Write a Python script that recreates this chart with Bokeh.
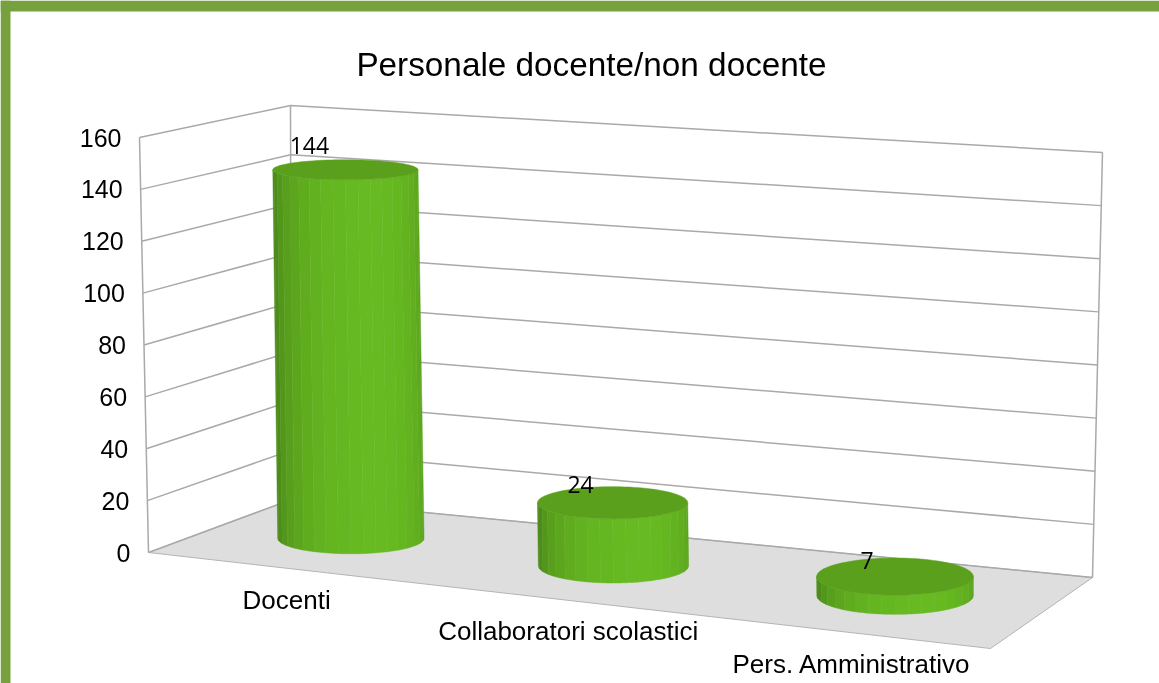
import numpy as np
from bokeh.embed import file_html
from bokeh.models import Range1d
from bokeh.plotting import figure
from bokeh.resources import INLINE
from bokeh.core.properties import value

# ---- data ----
title_text = "Personale docente/non docente"
categories = ["Docenti", "Collaboratori scolastici", "Pers. Amministrativo"]
values = [144, 24, 7]
ticks = [0, 20, 40, 60, 80, 100, 120, 140, 160]

# ---- layout of the 3D box (pixels on the page) ----
W, H = 1159, 683
Y0, K = 552.0, 2.594          # pixel of value 0 at the front-left edge, pixels per unit
VMAX = 160.0
FLOOR = [(148, 552), (990, 648), (1092, 577), (291, 499)]   # front-left, front-right, back-right, back-left
CEIL = [(139, 137), (980, 195), (1102, 152), (290, 105)]
BAR_U = [0.181, 0.521, 0.844]
BAR_W = 0.505
R_U = [0.10, 0.091, 0.084]
R_W = 0.28
LABEL_DX = [-36, -32, -28]
LABEL_DY = [24, 18, 16]
CAT_DX = [8, 21, 15]
CAT_DY = 33


def to_y(px):
    return (Y0 - np.asarray(px, dtype=float)) / K


def homography(q):
    src = [(0, 0), (1, 0), (1, 1), (0, 1)]
    A, b = [], []
    for (u, w), (x, y) in zip(src, q):
        A.append([u, w, 1, 0, 0, 0, -u * x, -w * x]); b.append(x)
        A.append([0, 0, 0, u, w, 1, -u * y, -w * y]); b.append(y)
    h = np.linalg.solve(np.array(A, float), np.array(b, float))
    return np.append(h, 1).reshape(3, 3)


HF, HC = homography(FLOOR), homography(CEIL)


def apply(h, u, w):
    p = h @ np.array([u, w, 1.0])
    return p[:2] / p[2]


def project(u, w, v):
    """Pixel position of a point of the 3D box."""
    f, c = apply(HF, u, w), apply(HC, u, w)
    return f + (c - f) * (v / VMAX)


def mix(c1, c2, t):
    return "#%02x%02x%02x" % tuple(int(round(a + (b - a) * t)) for a, b in zip(c1, c2))


p = figure(width=W, height=H, output_backend="svg", toolbar_location=None,
           x_range=Range1d(0, W), y_range=Range1d((Y0 - H) / K, Y0 / K),
           min_border=0, min_border_left=0, min_border_right=0, min_border_top=0, min_border_bottom=0,
           outline_line_color=None, background_fill_color="white", border_fill_color="white",
           styles={"position": "fixed", "left": "0px", "top": "0px"})
p.xaxis.visible = False
p.yaxis.visible = False
p.xgrid.visible = False
p.ygrid.visible = False

# frame of the slide
GREEN = "#76a13e"
p.quad(left=[0], right=[W], top=[to_y(0)], bottom=[to_y(11)], fill_color=GREEN, line_color=None)
p.quad(left=[0], right=[10], top=[to_y(0)], bottom=[to_y(H)], fill_color=GREEN, line_color=None)

# floor
corner = [project(0, 0, 0), project(1, 0, 0), project(1, 1, 0), project(0, 1, 0)]
p.patch([c[0] for c in corner], [to_y(c[1]) for c in corner],
        fill_color="#dedede", line_color="#b4b4b4", line_width=1)

# gridlines on the two walls
xs, ys = [], []
for t in ticks:
    a, b, c = project(0, 0, t), project(0, 1, t), project(1, 1, t)
    xs.append([a[0], b[0], c[0]])
    ys.append([to_y(a[1]), to_y(b[1]), to_y(c[1])])
for uw in [(0, 0), (0, 1), (1, 1)]:
    a, b = project(*uw, 0), project(*uw, VMAX)
    xs.append([a[0], b[0]])
    ys.append([to_y(a[1]), to_y(b[1])])
p.multi_line(xs, ys, line_color="#a9a9a9", line_width=1.5)

# tick labels
tick_x = [project(0, 0, t)[0] - 18 for t in ticks]
tick_y = [to_y(project(0, 0, t)[1]) for t in ticks]
p.text(tick_x, tick_y, text=[str(t) for t in ticks], text_align="right", text_baseline="middle",
       text_font=value("Liberation Sans"), text_font_size="25px", text_color="#000000")

# cylinders
DARK, BRIGHT = (0x4d, 0x8c, 0x1a), (0x67, 0xba, 0x21)
TOP = "#5ba01c"
N = 18
for u, val, ru in zip(BAR_U, values, R_U):
    base = project(u, BAR_W, 0)
    top = project(u, BAR_W, val)
    a_top = np.linalg.norm(project(u + ru, BAR_W, val) - project(u - ru, BAR_W, val)) / 2
    a_bot = np.linalg.norm(project(u + ru, BAR_W, 0) - project(u - ru, BAR_W, 0)) / 2
    b_top = abs(project(u, BAR_W + R_W, val)[1] - project(u, BAR_W - R_W, val)[1]) / 2
    b_bot = abs(project(u, BAR_W + R_W, 0)[1] - project(u, BAR_W - R_W, 0)[1]) / 2
    edges = np.linspace(np.pi, 0, N + 1)
    sx, sy, cols = [], [], []
    for i in range(N):
        t = np.linspace(edges[i], edges[i + 1], 5)
        xt = top[0] + a_top * np.cos(t)
        yt = top[1] + b_top * np.sin(t)
        xb = base[0] + a_bot * np.cos(t)
        yb = base[1] + b_bot * np.sin(t)
        sx.append(list(xt) + list(xb[::-1]))
        sy.append(list(to_y(yt)) + list(to_y(yb[::-1])))
        mid = (edges[i] + edges[i + 1]) / 2
        light = np.clip(np.cos(mid - 1.25), 0, 1) ** 0.7
        cols.append(mix(DARK, BRIGHT, light))
    p.patches(sx, sy, fill_color=cols, line_color=cols, line_width=0.5)
    t = np.linspace(0, 2 * np.pi, 90)
    p.patch(top[0] + a_top * np.cos(t), to_y(top[1] + b_top * np.sin(t)),
            fill_color=TOP, line_color=TOP, line_width=0.5)

# value labels
lab_x = [project(u, BAR_W, v)[0] + d for u, v, d in zip(BAR_U, values, LABEL_DX)]
lab_y = [to_y(project(u, BAR_W, v)[1] - d) for u, v, d in zip(BAR_U, values, LABEL_DY)]
p.text(lab_x, lab_y, text=[str(v) for v in values], text_align="center", text_baseline="middle",
       text_font=value("Open Sans"), text_font_size="23px", text_color="#000000")

# category labels
cat_x = [project(u, 0, 0)[0] + d for u, d in zip(BAR_U, CAT_DX)]
cat_y = [to_y(project(u, 0, 0)[1] + CAT_DY) for u in BAR_U]
p.text(cat_x, cat_y, text=categories, text_align="center", text_baseline="middle",
       text_font=value("Liberation Sans"), text_font_size="26px", text_color="#000000")

# title
p.text([591], [to_y(64)], text=[title_text], text_align="center", text_baseline="middle",
       text_font=value("Liberation Sans"), text_font_size="33.3px", text_color="#000000")

open("out.html", "w").write(file_html(p, INLINE))
